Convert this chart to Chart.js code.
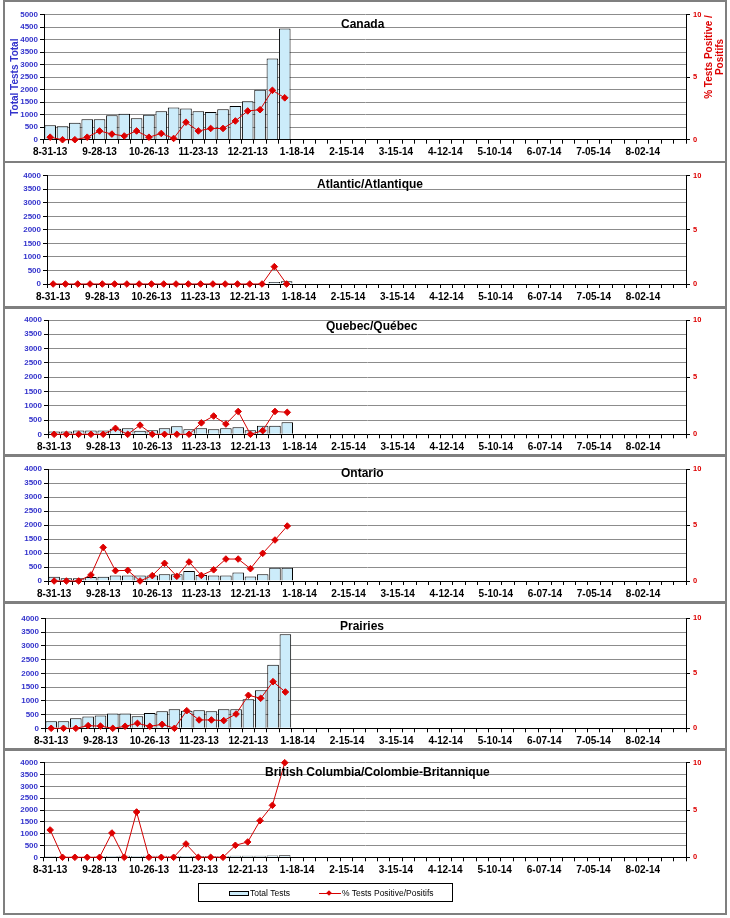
<!DOCTYPE html>
<html>
<head>
<meta charset="utf-8">
<script src="https://cdn.jsdelivr.net/npm/chart.js@4.4.1/dist/chart.umd.min.js"></script>
<style>
  body { margin: 0; background: #fff; font-family: "Liberation Sans", Arial, sans-serif; }
  #wrap { position: relative; width: 730px; height: 918px; overflow: hidden; }
  .frame { position: absolute; border: 2px solid #7f7f7f; box-sizing: border-box; }
  .panel { position: absolute; left: 0; }
  .ttl { position: absolute; font-weight: bold; font-size: 12px; color: #000; white-space: nowrap; }
  .rtitle { position: absolute; color: #dd0000; font-weight: bold; font-size: 10px; line-height: 11px;
            text-align: center; white-space: nowrap; transform: rotate(-90deg); transform-origin: center; }
  #legend { position: absolute; left: 198px; top: 883px; width: 255px; height: 19px; border: 1px solid #000;
            box-sizing: border-box; font-size: 8.5px; }
  #legend span { position: absolute; top: 4px; }
</style>
</head>
<body>
<div id="wrap"></div>
<script>
// weekly categories (every 4th one is labelled)
const weeks = ['8-31-13','9-07-13','9-14-13','9-21-13','9-28-13','10-05-13','10-12-13','10-19-13',
  '10-26-13','11-02-13','11-09-13','11-16-13','11-23-13','11-30-13','12-07-13','12-14-13',
  '12-21-13','12-28-13','1-04-14','1-11-14','1-18-14','1-25-14','2-01-14','2-08-14',
  '2-15-14','2-22-14','3-01-14','3-08-14','3-15-14','3-22-14','3-29-14','4-05-14',
  '4-12-14','4-19-14','4-26-14','5-03-14','5-10-14','5-17-14','5-24-14','5-31-14',
  '6-07-14','6-14-14','6-21-14','6-28-14','7-05-14','7-12-14','7-19-14','7-26-14',
  '8-02-14','8-09-14','8-16-14','8-23-14'];

// total tests per week
const canadaTests   = [580,540,680,820,820,980,1040,860,1000,1140,1290,1250,1140,1110,1220,1350,1540,2000,3250,4450];
const atlanticTests = [5,5,5,5,5,5,5,5,5,5,5,5,10,10,15,20,20,15,70,100];
const quebecTests   = [100,100,130,130,130,190,210,120,140,210,280,175,210,175,210,245,140,300,300,420];
const ontarioTests  = [155,95,95,140,155,200,200,200,200,240,240,360,215,200,200,300,165,240,475,475];
const prairiesTests = [255,255,365,425,470,535,535,435,560,620,690,640,655,620,690,690,1055,1380,2315,3420];
const bcTests       = [40,30,30,30,40,60,70,60,70,70,60,60,50,50,60,70,70,70,80,90];

// % tests positive per week
const canadaPos   = [0.2,0,0,0.2,0.7,0.45,0.3,0.7,0.2,0.5,0.1,1.4,0.7,0.9,0.9,1.5,2.3,2.4,3.95,3.35];
const atlanticPos = [0,0,0,0,0,0,0,0,0,0,0,0,0,0,0,0,0,0,1.6,0];
const quebecPos   = [0,0,0,0,0,0.52,0,0.8,0,0,0,0,1.0,1.6,0.9,2.0,0,0.32,2.0,1.92];
const ontarioPos  = [0,0,0,0.54,3.0,0.92,0.95,0,0.48,1.58,0.42,1.7,0.5,1.0,1.96,1.96,1.1,2.47,3.66,4.91];
const prairiesPos = [0,0,0,0.24,0.2,0,0.18,0.45,0.18,0.36,0,1.6,0.76,0.76,0.7,1.3,3.0,2.73,4.24,3.3];
const bcPos       = [2.89,0,0,0,0,2.57,0,4.79,0,0,0,1.41,0,0,0,1.27,1.62,3.87,5.49,10];

const panels = [
  { title: 'Canada', tests: canadaTests, pos: canadaPos, max: 5000,
    top: 0, h: 163, plotTop: 14.7, plotBottom: 139.7, left: 44, titleX: 341, titleY: 17, axisTitles: true },
  { title: 'Atlantic/Atlantique', tests: atlanticTests, pos: atlanticPos, max: 4000,
    top: 163, h: 145, plotTop: 175.7, plotBottom: 284, left: 47, titleX: 317, titleY: 177 },
  { title: 'Quebec/Québec', tests: quebecTests, pos: quebecPos, max: 4000,
    top: 308, h: 148, plotTop: 320, plotBottom: 434.3, left: 48, titleX: 326, titleY: 319 },
  { title: 'Ontario', tests: ontarioTests, pos: ontarioPos, max: 4000,
    top: 456, h: 147, plotTop: 469, plotBottom: 581, left: 48, titleX: 341, titleY: 466 },
  { title: 'Prairies', tests: prairiesTests, pos: prairiesPos, max: 4000,
    top: 603, h: 147, plotTop: 618.3, plotBottom: 728.3, left: 45, titleX: 340, titleY: 619 },
  { title: 'British Columbia/Colombie-Britannique', tests: bcTests, pos: bcPos, max: 4000,
    top: 750, h: 168, plotTop: 762.7, plotBottom: 857.3, left: 44, titleX: 265, titleY: 765 }
];

const wrap = document.getElementById('wrap');
const plotRight = 686;

// outer frame and panel separators
[[0,163],[161,148],[306,151],[454,150],[601,150],[748,168]].forEach(([t, h]) => {
  const f = document.createElement('div');
  f.className = 'frame';
  f.style.cssText = `left:3px;top:${t}px;width:724px;height:${Math.min(h, 915 - t)}px;`;
  wrap.appendChild(f);
});

panels.forEach(p => {
  const box = document.createElement('div');
  box.className = 'panel';
  box.style.top = p.top + 'px';
  box.style.width = '730px';
  box.style.height = p.h + 'px';
  const cv = document.createElement('canvas');
  cv.width = 730; cv.height = p.h;
  cv.style.width = '730px'; cv.style.height = p.h + 'px';
  box.appendChild(cv);
  wrap.appendChild(box);

  new Chart(cv.getContext('2d'), {
    type: 'bar',
    data: {
      labels: weeks,
      datasets: [
        {
          type: 'line', label: '% Tests Positive/Positifs', data: p.pos, yAxisID: 'y1', order: 1,
          borderColor: '#d40000', borderWidth: 1, pointStyle: 'rectRot', pointRadius: 3.3,
          pointBackgroundColor: '#dd0000', pointBorderColor: '#dd0000', clip: false, tension: 0
        },
        {
          type: 'bar', label: 'Total Tests', data: p.tests, yAxisID: 'y', order: 2,
          backgroundColor: '#ccecfa', borderColor: '#000', borderWidth: 1,
          barPercentage: 0.94, categoryPercentage: 1
        }
      ]
    },
    options: {
      responsive: false,
      animation: false,
      layout: { padding: { top: p.plotTop - p.top, left: 0, right: 0, bottom: 0 } },
      plugins: { legend: { display: false }, tooltip: { enabled: false } },
      scales: {
        x: {
          offset: true,
          grid: { offset: true, drawOnChartArea: false, color: '#000', tickLength: 4 },
          border: { color: '#000', width: 1 },
          ticks: {
            autoSkip: false, maxRotation: 0, padding: 3, color: '#000',
            font: { family: 'Liberation Sans', weight: 'bold', size: 10 },
            callback: (v, i) => (i % 4 === 0 ? weeks[i] : '')
          },
          afterFit: s => { s.height = p.h - (p.plotBottom - p.top); }
        },
        y: {
          position: 'left', min: 0, max: p.max,
          grid: { color: '#8c8c8c', tickColor: '#000', tickLength: 4, lineWidth: 1 },
          border: { color: '#000', width: 1 },
          ticks: {
            stepSize: 500, autoSkip: false, padding: 2, color: '#3333cc',
            font: { family: 'Liberation Sans', weight: 'bold', size: 8 },
            callback: v => String(v)
          },
          title: {
            display: !!p.axisTitles, text: 'Total Tests Total', color: '#3333cc',
            padding: { top: 9, bottom: 0 },
            font: { family: 'Liberation Sans', weight: 'bold', size: 10 }
          },
          afterFit: s => { s.width = p.left; }
        },
        y1: {
          position: 'right', min: 0, max: 10,
          grid: { drawOnChartArea: false, color: '#000', tickLength: 4 },
          border: { color: '#000', width: 1 },
          ticks: {
            stepSize: 5, padding: 3, color: '#dd0000',
            font: { family: 'Liberation Sans', weight: 'bold', size: 7.5 }
          },
          afterFit: s => { s.width = 730 - plotRight; }
        }
      }
    }
  });

  const t = document.createElement('div');
  t.className = 'ttl';
  t.textContent = p.title;
  t.style.left = p.titleX + 'px';
  t.style.top = p.titleY + 'px';
  wrap.appendChild(t);

  if (p.axisTitles) {
    const r = document.createElement('div');
    r.className = 'rtitle';
    r.innerHTML = '% Tests Positive /<br>Positifs';
    r.style.width = '100px';
    r.style.height = '22px';
    r.style.left = (714 - 50) + 'px';
    r.style.top = (57 - 11) + 'px';
    wrap.appendChild(r);
  }
});

// legend box
const lg = document.createElement('div');
lg.id = 'legend';
lg.innerHTML =
  '<span style="left:30px;top:7px;width:18px;height:3px;background:#ccecfa;border:1px solid #000;"></span>' +
  '<span style="left:51px;">Total Tests</span>' +
  '<span style="left:120px;top:9px;width:22px;height:1px;background:#d40000;"></span>' +
  '<span style="left:128px;top:7px;width:4px;height:4px;background:#dd0000;transform:rotate(45deg);"></span>' +
  '<span style="left:143px;">% Tests Positive/Positifs</span>';
wrap.appendChild(lg);
</script>
</body>
</html>
